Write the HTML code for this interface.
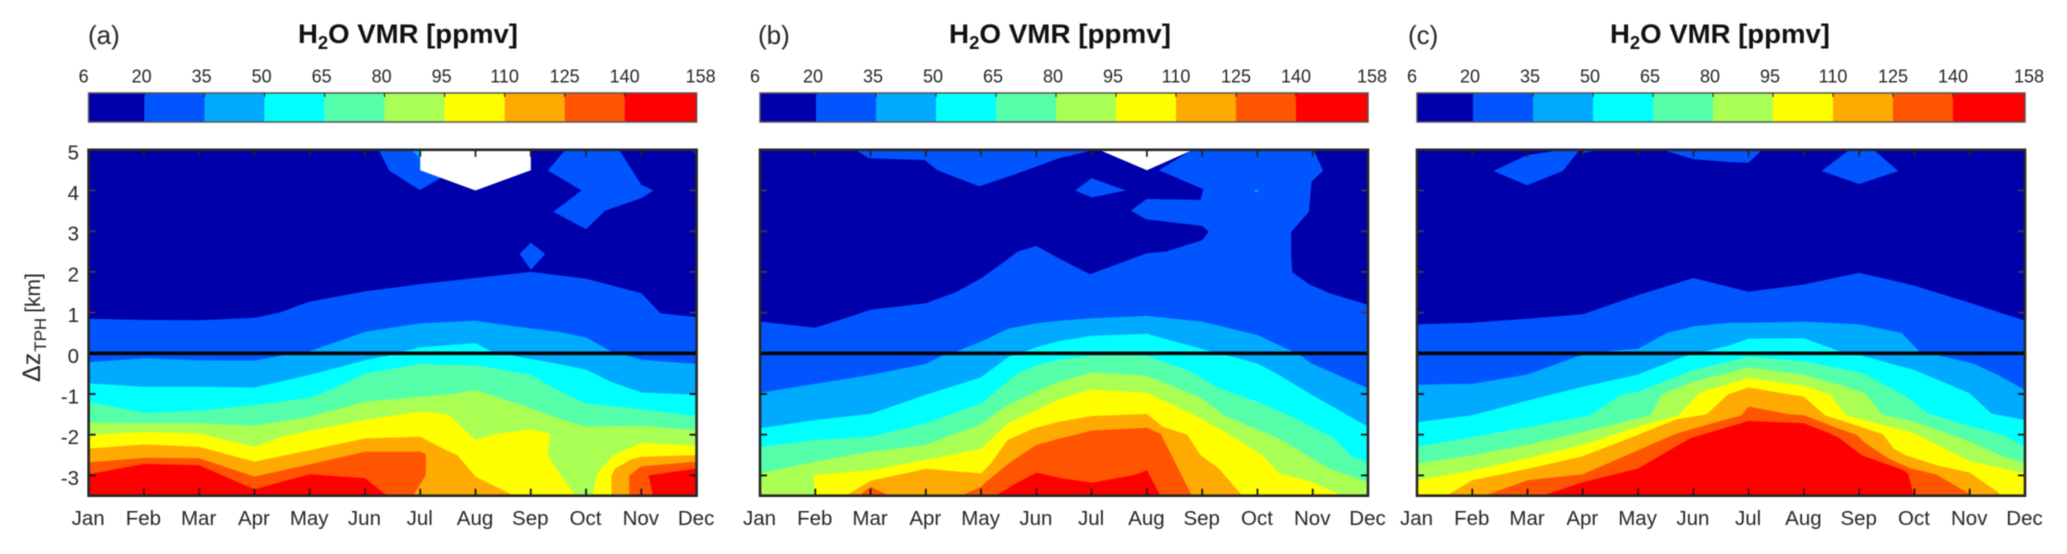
<!DOCTYPE html>
<html lang="en">
<head>
<meta charset="utf-8">
<title>H2O VMR seasonal cycle</title>
<style>
  html, body { margin: 0; padding: 0; background: #fff; }
  svg { display: block; filter: blur(0.45px); }
  text { font-family: "Liberation Sans", sans-serif; fill: #262626; }
  .title { font-weight: bold; font-size: 27px; fill: #111; }
  .plabel { font-size: 26px; }
</style>
</head>
<body>
<svg id="chart" xmlns="http://www.w3.org/2000/svg" width="2067" height="554" viewBox="0 0 2067 554">
  <defs id="defs"></defs>
  <rect x="0" y="0" width="2067" height="554" fill="#ffffff"/>
  <text class="plabel" x="88" y="44">(a)</text>
  <text class="plabel" x="758" y="44">(b)</text>
  <text class="plabel" x="1408" y="44">(c)</text>
  <text class="title" x="298" y="43" textLength="220" lengthAdjust="spacingAndGlyphs">H<tspan font-size="18" dy="6">2</tspan><tspan dy="-6">O VMR [ppmv]</tspan></text>
  <text class="title" x="949" y="43" textLength="222" lengthAdjust="spacingAndGlyphs">H<tspan font-size="18" dy="6">2</tspan><tspan dy="-6">O VMR [ppmv]</tspan></text>
  <text class="title" x="1610" y="43" textLength="220" lengthAdjust="spacingAndGlyphs">H<tspan font-size="18" dy="6">2</tspan><tspan dy="-6">O VMR [ppmv]</tspan></text>
  <text transform="translate(40,382) rotate(-90)" font-size="21"><tspan font-size="25">Δz</tspan><tspan font-size="17" dy="6" dx="1">TPH</tspan><tspan dy="-6" dx="5">[km]</tspan></text>
  <g id="plots"></g>
</svg>
<script>
// ---- shared categories, ticks and levels ----
const months = ["Jan","Feb","Mar","Apr","May","Jun","Jul","Aug","Sep","Oct","Nov","Dec"];
const yTicks = [5,4,3,2,1,0,-1,-2,-3];
const cbLevels = [6,20,35,50,65,80,95,110,125,140,158];
const levelColors = ["#0000AA","#0055FF","#00AAFF","#00FFFF","#55FFAA","#AAFF55","#FFFF00","#FFAA00","#FF5500","#FF0000"];

// ---- contour boundaries: [month index, altitude km] ----
// Panel (a)
const a20 = [[0,.85],[1,.82],[2,.81],[3,.87],[3.45,1.0],[4,1.27],[5,1.52],[6,1.7],[7,1.85],[8,2.0],[9,1.83],[10,1.48],[10.35,.98],[11,.89]];
const a35 = [[0,-.22],[1,-.12],[2,-.17],[3,-.18],[3.55,-.04],[4,.05],[5,.53],[6,.74],[7,.8],[8,.61],[8.5,.53],[9,.39],[9.46,.04],[9.75,-.06],[10,-.16],[11,-.26]];
const a50 = [[0,-.74],[1,-.82],[2,-.82],[3,-.84],[4,-.53],[5,-.17],[5.4,-.06],[5.8,.08],[6,.15],[7,.25],[7.3,.04],[7.75,-.08],[8.5,-.26],[9,-.4],[9.45,-.7],[10,-.96],[11,-1.02]];
const a65 = [[0,-1.19],[1,-1.46],[2,-1.41],[3,-1.27],[4,-1.09],[4.5,-.82],[5,-.5],[6,-.26],[7,-.29],[8,-.53],[8.5,-.92],[9,-1.23],[10,-1.37],[11,-1.54]];
const a80 = [[0,-1.7],[1,-1.72],[2,-1.72],[3,-1.78],[4,-1.56],[5,-1.19],[6,-1.07],[6.6,-1.0],[7,-.9],[8,-1.35],[8.5,-1.6],[9,-1.8],[10,-1.78],[11,-1.89]];
const a95 = [[0,-2],[1,-1.93],[2,-1.97],[3,-2.3],[3.5,-2.05],[4,-1.9],[5,-1.64],[6,-1.43],[6.5,-1.5],[7,-2.13],[7.35,-1.98],[8,-1.87],[8.35,-1.98],[8.3,-2.5],[8.52,-2.95],[8.86,-3.6],[9.1,-3.6],[9.2,-2.95],[9.49,-2.5],[10,-2.2],[11,-2.27]];
const a110 = [[0,-2.34],[1,-2.24],[2,-2.3],[3,-2.66],[4,-2.38],[5,-2.09],[6,-2.05],[6.47,-2.38],[6.67,-2.5],[7,-3.03],[7.7,-3.5],[8,-3.6],[9.46,-3.6],[9.46,-3.0],[9.53,-2.83],[9.8,-2.62],[10,-2.54],[11,-2.5]];
const a125 = [[0,-2.68],[1,-2.57],[2,-2.58],[3,-3.03],[4,-2.73],[5,-2.42],[6,-2.42],[6.1,-2.48],[6.1,-2.99],[5.83,-3.6],[9.78,-3.6],[9.78,-3.0],[10,-2.78],[11,-2.66]];
const a140 = [[0,-2.97],[1,-2.72],[2,-2.75],[3,-3.34],[4,-2.97],[5,-3.07],[5.4,-3.5],[5.5,-3.6],[10.23,-3.6],[10.13,-3.0],[11,-2.83]];
const aIslandTop = [[5.21,5.1],[5.44,4.49],[5.99,4.01],[6.41,4.34],[6.4,5.1]];
const aIslandWedge = [[5.76,5.1],[6,5.1],[6,4.79]];
const aIslandOct = [[8.7,5.1],[8.5,4.8],[8.31,4.49],[8.92,4.0],[8.41,3.48],[9,3.05],[9.34,3.5],[10,3.81],[10.22,4.0],[10,4.14],[9.55,5.1]];
const aIslandCorner = [[10.78,5.1],[11,5.1],[11,4.9]];
const aIslandDiamond = [[8,2.72],[8.26,2.44],[8,2.05],[7.8,2.44]];
const aHole = [[6,5.1],[8,5.1],[8,4.5],[7,4.0],[6,4.5]];

// Panel (b)
const b20 = [[0,.78],[1,.63],[1.67,.92],[2,1.07],[3,1.23],[3.54,1.5],[4,1.84],[4.47,2.3],[4.66,2.5],[5,2.64],[5.41,2.33],[5.97,1.94],[7,2.46],[7.34,2.5],[8,2.78],[8.12,2.99],[8,3.13],[6.99,3.29],[6.71,3.5],[6.99,3.79],[7.97,3.77],[8.02,4.03],[7.22,4.5],[7.94,5.1],[9.98,5.1],[10.19,4.49],[9.98,4.22],[9.93,3.48],[9.61,2.98],[9.61,2.37],[9.63,1.99],[9.93,1.7],[10.3,1.48],[11,1.19]];
const b35 = [[0,-.97],[1,-.75],[2,-.53],[3,-.26],[3.29,-.06],[3.6,.07],[4,.29],[4.5,.61],[5,.74],[5.41,.8],[6,.86],[7,.92],[8,.78],[9,.45],[9.6,.07],[9.78,-.06],[9.98,-.25],[11,-.86]];
const b50 = [[0,-1.84],[1,-1.64],[2,-1.49],[3,-1.02],[4,-.59],[4.5,-.08],[4.84,.07],[5,.15],[5.41,.3],[6,.43],[7,.48],[8.1,.07],[8.49,-.06],[9,-.25],[9.39,-.53],[9.98,-1.02],[11,-1.8]];
const b65 = [[0,-2.3],[1,-2.13],[2,-2.05],[3,-1.72],[4,-1.23],[4.66,-.49],[5,-.29],[5.41,-.16],[6,-.06],[7,-.06],[7.8,-.45],[8.3,-.86],[9,-1.19],[9.63,-1.56],[9.98,-1.8],[10.35,-2.05],[10.72,-2.54],[11,-2.67]];
const b80 = [[0,-2.95],[1,-2.66],[2,-2.42],[3,-2.25],[4,-1.74],[4.43,-1.31],[5,-.94],[5.41,-.7],[6,-.47],[7,-.55],[7.94,-1.07],[8.43,-1.55],[9.03,-1.89],[9.39,-2.09],[9.98,-2.58],[10.3,-2.83],[10.72,-3.03],[11,-3.18]];
const b95 = [[0,-3.6],[.98,-3.6],[.98,-2.99],[2,-2.87],[3,-2.62],[4,-2.35],[4.48,-1.72],[5,-1.4],[5.41,-1.13],[6,-.89],[7,-.97],[7.83,-1.5],[8.37,-1.9],[9.09,-2.5],[9.39,-2.95],[9.98,-3.16],[10.72,-3.6],[11,-3.6]];
const b110 = [[0,-3.6],[1.43,-3.6],[2,-3.13],[3,-2.84],[4,-2.95],[4.18,-2.7],[4.48,-2.13],[4.96,-1.84],[5.41,-1.68],[6,-1.54],[7,-1.49],[7.28,-1.8],[7.73,-2.0],[7.97,-2.5],[8.3,-2.83],[8.79,-3.6],[11,-3.6]];
const b125 = [[0,-3.6],[1.7,-3.6],[2,-3.28],[2.5,-3.6],[3.48,-3.6],[4,-3.28],[4.06,-3.2],[4.5,-2.7],[5,-2.25],[5.41,-2.1],[6,-1.9],[7,-1.83],[7.25,-1.98],[7.46,-2.54],[7.85,-3.6],[11,-3.6]];
const b140 = [[0,-3.6],[4.14,-3.6],[4.63,-3.2],[5,-2.93],[5.41,-3.06],[6,-3.18],[6.8,-2.98],[7,-2.87],[7.28,-3.6],[11,-3.6]];
const bIslandTop = [[1.61,5.1],[1.97,4.79],[2.98,4.75],[3.21,4.5],[3.97,4.1],[4.66,4.42],[5.41,4.79],[5.97,4.97],[6.04,5.1]];
const bIslandSmall = [[6,4.3],[6.62,4.0],[6,3.83],[5.7,4.0]];
const bIslandDot = [[8.95,4.02],[9.01,4.02],[9.01,3.96],[8.95,3.96]];
const bHole = [[5.96,5.1],[7,4.5],[8,5.1]];

// Panel (c)
const c20 = [[0,.71],[1,.75],[2,.85],[3,.96],[4,1.43],[5,1.85],[6,1.51],[7,1.69],[8,1.98],[9,1.66],[10,1.24],[11,.8]];
const c35 = [[0,-.77],[1,-.75],[2,-.52],[2.92,-.07],[3.49,.06],[4,.11],[4.52,.5],[5,.66],[5.66,.75],[6,.75],[7,.78],[8,.71],[8.77,.5],[9.1,.03],[9.4,-.04],[10.06,-.25],[10.51,-.53],[11,-.9]];
const c50 = [[0,-1.69],[1,-1.52],[2,-1.16],[3,-.82],[4,-.52],[4.82,-.08],[5.24,.06],[5.66,.2],[6,.36],[7,.37],[7.65,.05],[8,-.04],[9,-.41],[10,-.98],[10.39,-1.48],[11,-1.64]];
const c65 = [[0,-2.29],[1,-2.06],[2,-1.81],[3,-1.56],[3.13,-1.52],[3.7,-1.01],[4,-.94],[5,-.41],[6,-.08],[7,-.2],[7.65,-.37],[8.07,-.49],[8.86,-1.07],[9.25,-1.48],[10,-1.78],[10.6,-2.0],[11,-2.3]];
const c80 = [[0,-2.71],[1,-2.5],[2,-2.25],[3,-1.93],[4,-1.6],[4.22,-1.52],[4.43,-1.01],[5,-.7],[6,-.35],[7,-.53],[7.65,-.78],[8.1,-.98],[8.42,-1.5],[9,-1.68],[10,-2.17],[10.55,-2.5],[11,-2.7]];
const c95 = [[0,-3.12],[1,-2.88],[2,-2.58],[3,-2.25],[4,-1.8],[4.73,-1.52],[5.12,-.96],[6,-.61],[7,-.8],[7.47,-1.01],[7.65,-1.34],[7.77,-1.53],[8.43,-1.76],[9,-1.97],[10,-2.65],[11,-2.95]];
const c110 = [[0,-3.6],[.41,-3.6],[1,-3.12],[2,-2.84],[3,-2.53],[4,-2],[4.7,-1.62],[5.24,-1.5],[5.63,-1.01],[6,-.84],[7,-1.07],[7.38,-1.52],[7.65,-1.64],[8.43,-1.99],[8.62,-2.34],[8.83,-2.5],[9.4,-2.75],[10,-2.93],[10.5,-3.4],[10.65,-3.6],[11,-3.6]];
const c125 = [[0,-3.6],[1.01,-3.6],[2,-3.12],[3,-2.97],[4,-2.38],[4.7,-1.97],[5.24,-1.76],[5.87,-1.52],[6,-1.31],[6.75,-1.5],[7,-1.52],[7.65,-1.86],[7.95,-2.0],[8.1,-2.2],[8.55,-2.6],[8.92,-2.82],[9.4,-2.98],[9.97,-3.44],[10.1,-3.6],[11,-3.6]];
const c140 = [[0,-3.6],[2.04,-3.6],[3,-3.17],[4,-2.83],[4.94,-2.09],[6,-1.66],[7,-1.72],[7.47,-1.97],[7.65,-2.09],[8.04,-2.5],[8.8,-2.87],[8.89,-2.97],[8.98,-3.45],[9.1,-3.6],[11,-3.6]];
const cIslandMar = [[1.38,4.48],[1.99,4.87],[2.4,4.95],[3,5.1],[2.64,4.48],[1.99,4.13]];
const cIslandSliver = [[3,5.1],[3.67,5.1],[3,4.92]];
const cIslandJun = [[4.18,5.1],[5.01,4.77],[5.66,4.7],[6,4.68],[6.32,5.1]];
const cIslandSep = [[7.32,4.48],[7.92,5.1],[8.17,5.1],[8.71,4.48],[8,4.16]];

const panelA = { id: "a", bands: [a20,a35,a50,a65,a80,a95,a110,a125,a140],
  islands: [[aIslandTop,1],[aIslandWedge,2],[aIslandOct,1],[aIslandCorner,1],[aIslandDiamond,1]], hole: aHole };
const panelB = { id: "b", bands: [b20,b35,b50,b65,b80,b95,b110,b125,b140],
  islands: [[bIslandTop,1],[bIslandSmall,1],[bIslandDot,2]], hole: bHole };
const panelC = { id: "c", bands: [c20,c35,c50,c65,c80,c95,c110,c125,c140],
  islands: [[cIslandMar,1],[cIslandSliver,1],[cIslandJun,1],[cIslandSep,1]], hole: null };

// ---- layout (not data) ----
const NS = "http://www.w3.org/2000/svg";
const plotW = 608, plotTop = 149.8, plotBottom = 495.7, kmPx = 40.7;
const zeroPx = plotTop + 5 * kmPx;
const zMin = (zeroPx - plotBottom) / kmPx;
const cbTop = 93, cbBottom = 122;
const lefts = { a: 88.6, b: 760, c: 1417 };

const root = document.getElementById("plots");
const defs = document.getElementById("defs");

function svgEl(tag, attrs, parent) {
  const e = document.createElementNS(NS, tag);
  for (const k in attrs) e.setAttribute(k, attrs[k]);
  parent.appendChild(e);
  return e;
}

function drawPanel(p) {
  const left = lefts[p.id];
  const x = m => left + m * plotW / 11;
  const y = z => zeroPx - z * kmPx;
  const cb = v => left + (v - cbLevels[0]) * plotW / (cbLevels[cbLevels.length - 1] - cbLevels[0]);
  const pts = arr => arr.map(d => x(d[0]).toFixed(1) + "," + y(d[1]).toFixed(1)).join(" ");

  const g = svgEl("g", {}, root);
  
  

  // colorbar
  const cbg = svgEl("g", {}, g);
  
  
  levelColors.forEach((col, i) => {
    const seg = svgEl("rect", { x: cb(cbLevels[i]), y: cbTop, width: cb(cbLevels[i + 1]) - cb(cbLevels[i]), height: cbBottom - cbTop, fill: col }, cbg);
    
    
  });
  const cbFrame = svgEl("rect", { x: left, y: cbTop, width: plotW, height: cbBottom - cbTop, fill: "none", stroke: "#555", "stroke-width": 1.5 }, cbg);
  
  
  cbLevels.forEach((v, i) => {
    if (i > 0 && i < cbLevels.length - 1) {
      const t = svgEl("line", { x1: cb(v), x2: cb(v), y1: cbTop, y2: cbTop + 4, stroke: "#333", "stroke-width": 1.2 }, cbg);
      
      
    }
    const off = i === 0 ? -5 : (i === cbLevels.length - 1 ? 4 : (v <= 95 ? -3 : 0));
    const lab = svgEl("text", { x: cb(v) + off, y: 82.5, "text-anchor": "middle", "font-size": 18 }, cbg);
    lab.textContent = String(v);
    
    
  });

  // clip to the axes
  const clip = svgEl("clipPath", { id: "clip-" + p.id }, defs);
  svgEl("rect", { x: left, y: plotTop, width: plotW, height: plotBottom - plotTop }, clip);

  const plot = svgEl("g", { "clip-path": "url(#clip-" + p.id + ")" }, g);
  
  

  const base = svgEl("rect", { x: left, y: plotTop, width: plotW, height: plotBottom - plotTop, fill: levelColors[0] }, plot);
  
  

  p.bands.forEach((line, i) => {
    const first = line[0], last = line[line.length - 1];
    const closed = line.concat([[last[0], zMin - 1], [first[0], zMin - 1]]);
    const band = svgEl("polygon", { points: pts(closed), fill: levelColors[i + 1] }, plot);
    
    
  });
  p.islands.forEach(item => {
    const isl = svgEl("polygon", { points: pts(item[0]), fill: levelColors[item[1]] }, plot);
    
    
  });
  if (p.hole) {
    const hole = svgEl("polygon", { points: pts(p.hole), fill: "#ffffff" }, plot);
    
    
  }

  // tropopause line
  const zero = svgEl("line", { x1: left, x2: left + plotW, y1: y(0), y2: y(0), stroke: "#050505", "stroke-width": 3.6 }, g);
  
  

  // ticks and month labels
  months.forEach((name, i) => {
    if (i > 0 && i < 11) {
      const t1 = svgEl("line", { x1: x(i), x2: x(i), y1: plotTop, y2: plotTop + 7, stroke: "#222", "stroke-width": 1.8 }, g);
      
      
      const t2 = svgEl("line", { x1: x(i), x2: x(i), y1: plotBottom, y2: plotBottom - 7, stroke: "#111", "stroke-width": 1.8 }, g);
      
      
    }
    const lab = svgEl("text", { x: x(i) - 0.5, y: 525, "text-anchor": "middle", "font-size": 20.5 }, g);
    lab.textContent = name;
    
    
  });
  yTicks.forEach(v => {
    if (v !== 5 && v !== 0) {
      const col = v > 0 ? "#3a3a55" : "#111";
      const t1 = svgEl("line", { x1: left, x2: left + 7, y1: y(v), y2: y(v), stroke: col, "stroke-width": 1.8 }, g);
      
      
      const t2 = svgEl("line", { x1: left + plotW, x2: left + plotW - 7, y1: y(v), y2: y(v), stroke: col, "stroke-width": 1.8 }, g);
      
      
    }
    if (p.id === "a") {
      const lab = svgEl("text", { x: 79, y: y(v) + 9.5, "text-anchor": "end", "font-size": 20.5 }, g);
      lab.textContent = String(v);
      
      
    }
  });

  const frame = svgEl("rect", { x: left, y: plotTop, width: plotW, height: plotBottom - plotTop, fill: "none", stroke: "#262626", "stroke-width": 2.6 }, g);
  
  
}

drawPanel(panelA);
drawPanel(panelB);
drawPanel(panelC);
</script>
</body>
</html>
